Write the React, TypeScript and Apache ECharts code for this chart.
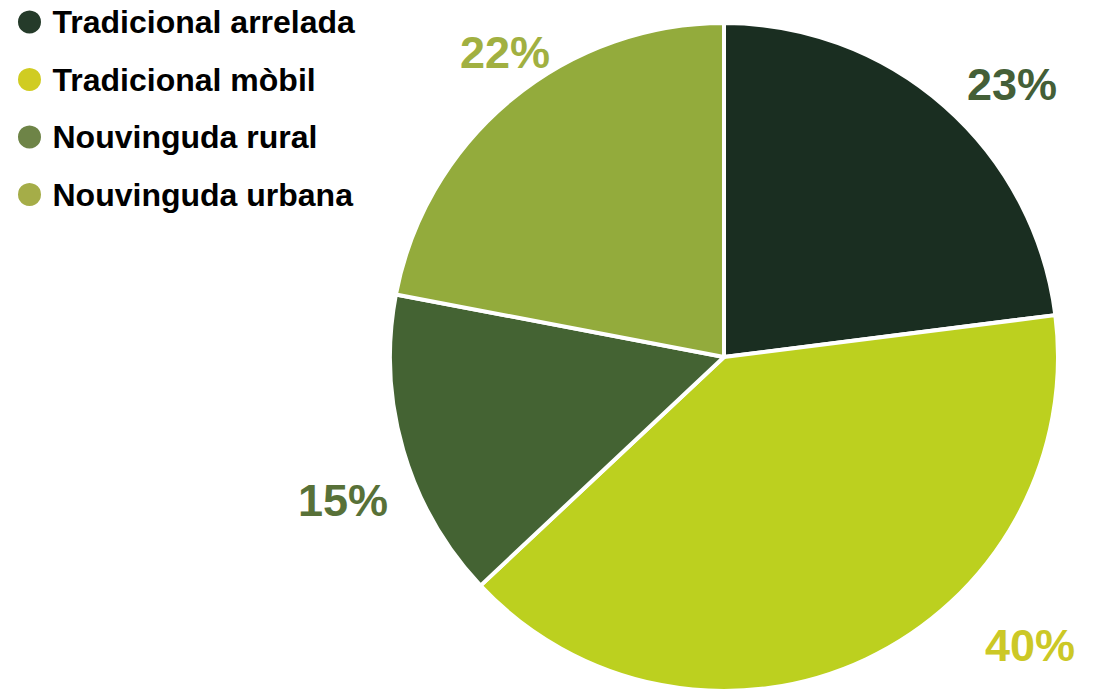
import React, { useEffect, useRef } from "react";
import * as echarts from "echarts";

const categories = ["Tradicional arrelada", "Tradicional mòbil", "Nouvinguda rural", "Nouvinguda urbana"];
const values = [23, 40, 15, 22];
const sliceColors = ["#1a2e21", "#bcd01f", "#446333", "#93ab3c"];
const legendColors = ["#253b2a", "#d0cc22", "#6e8447", "#a5ad48"];
const labelColors = ["#445f37", "#ccc826", "#587138", "#a1b041"];
const labelPositions = [
  [1012, 84],
  [1030, 645],
  [343, 500],
  [505, 52],
];

export default function App() {
  const ref = useRef<HTMLDivElement>(null);
  useEffect(() => {
    document.body.style.margin = "0";
    const chart = echarts.init(ref.current!, null, { renderer: "svg" });
    chart.setOption({
      animation: false,
      backgroundColor: "#ffffff",
      legend: {
        orient: "vertical",
        left: 16,
        top: 6,
        padding: 0,
        icon: "circle",
        itemWidth: 36,
        itemHeight: 25,
        itemGap: 25.5,
        selectedMode: false,
        textStyle: {
          fontFamily: "Liberation Sans, Arial, sans-serif",
          fontWeight: "bold",
          fontSize: 32,
          lineHeight: 32,
          color: "#000000",
        },
        data: categories.map((c, i) => ({ name: c, itemStyle: { color: legendColors[i] } })),
      },
      series: [
        {
          type: "pie",
          center: [724, 357],
          radius: 334,
          startAngle: 90,
          clockwise: true,
          avoidLabelOverlap: false,
          itemStyle: { borderColor: "#ffffff", borderWidth: 4 },
          label: {
            show: true,
            position: "outside",
            formatter: "{c}%",
            fontFamily: "Liberation Sans, Arial, sans-serif",
            fontWeight: "bold",
            fontSize: 45,
            align: "center",
            verticalAlign: "middle",
          },
          labelLine: { show: false },
          labelLayout: (params: any) => ({
            x: labelPositions[params.dataIndex][0],
            y: labelPositions[params.dataIndex][1],
            align: "center",
            verticalAlign: "middle",
          }),
          data: categories.map((c, i) => ({
            name: c,
            value: values[i],
            itemStyle: { color: sliceColors[i] },
            label: { color: labelColors[i] },
          })),
        },
      ],
    });
    return () => chart.dispose();
  }, []);
  return <div ref={ref} style={{ width: 1101, height: 690 }} />;
}
